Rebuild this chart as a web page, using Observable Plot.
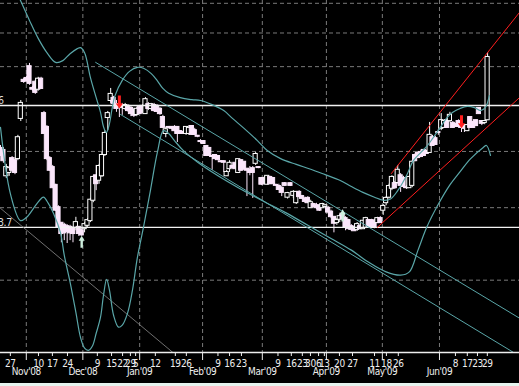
<!DOCTYPE html>
<html><head><meta charset="utf-8">
<script src="https://cdn.jsdelivr.net/npm/d3@7"></script>
<script src="https://cdn.jsdelivr.net/npm/@observablehq/plot@0.6"></script>
<style>
html,body{margin:0;padding:0;background:#e6f5ef;overflow:hidden}
#chart svg{display:block}
#chart svg text{letter-spacing:-0.4px}
</style></head><body><div id="chart"></div>
<script>
// Daily OHLC prices (one entry per trading day, left to right)
const openP = [5.06,5.02,4.54,4.60,4.86,4.82,4.86,5.70,6.63,6.68,
7.00,6.42,6.58,6.40,6.66,5.81,5.50,4.86,4.69,4.37,
4.00,3.76,3.73,3.71,3.70,3.68,3.70,3.70,3.65,3.68,
3.73,3.80,4.12,4.54,4.46,4.54,4.94,5.72,6.12,6.17,
6.02,6.00,6.00,5.93,5.98,5.93,5.88,5.79,5.95,5.98,
5.81,6.02,5.93,6.00,5.98,5.91,5.72,5.37,5.50,5.50,
5.50,5.50,5.41,5.39,5.37,5.37,5.52,5.43,5.31,5.20,
5.20,5.10,5.06,4.90,4.92,4.90,4.80,4.80,4.54,4.67,
4.71,4.77,4.60,4.82,4.79,4.66,4.64,4.67,4.77,4.69,
4.49,4.49,4.39,4.51,4.49,4.37,4.35,4.32,4.40,4.17,
4.40,4.20,4.08,4.25,4.18,4.14,4.15,4.00,4.05,4.03,
4.03,4.00,4.02,3.99,3.93,3.85,3.77,3.82,3.90,3.83,
3.80,3.71,3.70,3.67,3.71,3.68,3.70,3.80,3.80,3.79,
3.77,3.83,3.96,4.08,4.17,4.32,4.40,4.42,4.54,4.49,
4.33,4.33,4.37,4.92,4.96,4.98,5.02,5.00,4.98,5.28,
5.26,5.39,5.48,5.50,5.65,5.65,5.59,5.56,5.63,5.50,
5.54,5.43,5.72,5.61,5.65,5.93,5.63,5.61,5.67];
const highP = [5.12,5.08,4.75,4.71,4.90,4.88,5.33,6.12,6.68,6.73,
7.09,6.47,6.63,6.71,6.71,5.86,5.54,4.90,4.73,4.39,
4.03,3.77,3.76,3.74,3.73,3.71,3.85,3.71,3.68,3.77,
3.83,4.15,4.54,4.73,4.75,4.98,5.43,5.86,6.42,6.22,
6.12,6.05,6.05,6.05,6.02,5.98,5.93,5.95,6.00,6.02,
6.19,6.07,6.05,6.05,6.02,5.95,5.77,5.50,5.52,5.52,
5.54,5.52,5.43,5.41,5.52,5.54,5.54,5.48,5.33,5.24,
5.22,5.12,5.08,4.92,4.94,4.92,4.82,4.82,4.64,4.82,
4.73,4.79,4.84,4.84,4.80,4.67,4.71,4.71,4.98,4.71,
4.51,4.53,4.54,4.53,4.51,4.39,4.39,4.35,4.42,4.25,
4.42,4.28,4.25,4.28,4.20,4.17,4.18,4.12,4.07,4.07,
4.05,4.07,4.05,4.02,3.96,3.86,3.83,3.90,3.96,3.86,
3.82,3.74,3.71,3.77,3.74,3.80,3.85,3.82,3.82,3.82,
3.85,3.86,4.05,4.18,4.39,4.54,4.44,4.73,4.58,4.53,
4.37,4.53,4.82,4.96,5.00,5.02,5.04,5.02,5.61,5.33,
5.31,5.45,5.81,5.67,5.70,5.84,5.63,5.59,5.67,5.52,
5.56,5.56,5.74,5.63,5.67,5.95,5.65,5.65,7.40];
const lowP = [4.90,4.77,4.49,4.53,4.60,4.56,4.82,5.63,6.55,6.58,
6.50,6.35,6.27,6.35,6.40,5.35,4.82,4.62,4.32,3.94,
3.68,3.48,3.51,3.47,3.51,3.48,3.65,3.57,3.57,3.62,
3.70,3.77,4.08,4.28,4.39,4.51,4.90,5.43,6.05,5.98,
5.84,5.72,5.77,5.88,5.84,5.74,5.72,5.74,5.79,5.81,
5.79,5.88,5.88,5.84,5.84,5.77,5.48,5.28,5.48,5.45,
5.41,5.18,5.35,5.35,5.33,5.33,5.33,5.33,5.28,5.16,
5.14,4.90,4.90,4.64,4.84,4.82,4.79,4.60,4.53,4.60,
4.67,4.66,4.58,4.62,4.64,4.18,4.54,4.15,4.73,4.67,
4.37,4.39,4.37,4.39,4.39,4.35,4.28,4.18,4.35,4.14,
4.35,4.15,4.05,4.17,4.14,4.07,4.07,3.99,4.00,3.97,
3.94,3.99,4.00,3.90,3.83,3.62,3.73,3.77,3.80,3.65,
3.67,3.64,3.64,3.64,3.67,3.67,3.68,3.70,3.70,3.68,
3.76,3.77,3.88,4.03,4.14,4.28,4.30,4.39,4.25,4.32,
4.30,4.32,4.33,4.80,4.86,4.88,4.90,4.94,4.96,5.10,
5.12,5.33,5.43,5.48,5.48,5.61,5.48,5.50,5.48,5.39,
5.39,5.41,5.48,5.48,5.52,5.79,5.54,5.56,5.65];
const closeP = [4.98,4.82,4.69,4.67,4.64,4.60,5.28,6.05,6.60,6.63,
6.55,6.40,6.32,6.66,6.42,5.37,4.86,4.64,4.33,3.96,
3.70,3.61,3.62,3.64,3.62,3.61,3.77,3.61,3.59,3.74,
3.80,4.12,4.51,4.40,4.71,4.92,5.37,5.81,6.27,6.05,
5.93,5.98,5.95,6.00,5.88,5.81,5.77,5.91,5.81,5.84,
6.14,5.93,6.02,5.88,5.86,5.81,5.50,5.45,5.50,5.48,
5.43,5.37,5.37,5.37,5.50,5.48,5.35,5.35,5.31,5.20,
5.16,4.92,4.92,4.90,4.86,4.84,4.80,4.79,4.60,4.77,
4.69,4.67,4.84,4.64,4.66,4.64,4.60,4.60,4.94,4.69,
4.39,4.40,4.53,4.40,4.40,4.37,4.30,4.25,4.37,4.23,
4.37,4.25,4.25,4.18,4.15,4.10,4.08,4.08,4.02,4.00,
3.96,4.05,4.03,3.93,3.86,3.76,3.80,3.86,3.83,3.70,
3.68,3.67,3.65,3.74,3.68,3.79,3.83,3.71,3.71,3.70,
3.83,3.77,4.02,4.15,4.35,4.51,4.33,4.64,4.37,4.35,
4.33,4.51,4.79,4.82,4.88,4.90,4.92,4.96,5.33,5.12,
5.14,5.39,5.65,5.63,5.50,5.77,5.50,5.52,5.52,5.50,
5.48,5.54,5.50,5.50,5.54,5.81,5.59,5.63,7.26];

// Envelope curves (day index, price)
const upperIdx = [4.5,6.9,10,13,16,19,21.5,24,26.5,27.6,29,31,33,34.5,35.5,36.5,37.5,38.5,39.5,42,44.5,47.2,49.5,52,54,56,58,62,66,69,73,77,80,84,88.6,92,96.6,102,107,112,117,121,125,129,132,134.5,137,140,142.4,145,147,149,151.7,154,156,158.5,161,163.5,165.5,167.2,168.6];
const upperVal = [9.66,9.10,8.41,7.83,7.40,7.12,7.17,7.37,7.52,7.55,7.40,6.71,6.19,5.84,5.52,5.39,5.56,5.93,6.24,6.63,6.87,6.98,6.95,6.81,6.63,6.42,6.30,6.19,6.14,6.12,6.02,5.88,5.70,5.48,5.22,5.02,4.86,4.75,4.66,4.56,4.46,4.35,4.25,4.17,4.12,4.14,4.28,4.54,4.82,4.98,5.10,5.26,5.50,5.72,5.84,5.93,5.98,5.95,5.88,5.95,6.24];
const lowerIdx = [0,3.4,6.9,9,11.4,13.5,14.8,16.5,18.3,20.7,22,24.1,26,27.6,29,30.3,31.7,33,34.5,35.5,36.6,37.6,39,40.7,42,43.8,45.5,47.2,49.3,51.7,54.1,56.2,58,60,63,68,75,82,90,98,106,114,121,127,133,138,141,144,147,150.7,155,158.6,162,166.5,167.6,169];
const lowerVal = [5.50,4.23,3.80,3.85,3.99,4.12,4.17,4.07,3.91,3.62,3.31,2.96,2.64,2.39,2.29,2.27,2.31,2.43,2.59,2.82,3.01,2.88,2.61,2.49,2.51,2.63,2.88,3.28,3.70,4.28,4.98,5.43,5.37,5.22,5.02,4.79,4.54,4.33,4.12,3.93,3.73,3.54,3.38,3.22,3.10,3.06,3.10,3.38,3.70,4.03,4.38,4.62,4.85,5.08,5.12,4.92];

// Trend lines (start/end index, start/end price)
const downChanTopIdx = [32.8, 179], downChanTopVal = [7.12, 2.58];
const downChanBotIdx = [41.4, 179], downChanBotVal = [5.79, 2.22];
const oldTrendIdx = [0, 60], oldTrendVal = [3.99, 2.24];
const upChanTopIdx = [134.8, 179], upChanTopVal = [4.58, 8.68];
const upChanBotIdx = [130, 179], upChanBotVal = [3.70, 6.19];

// Signals
const sellIdx = [41, 159], sellPrice = [5.93, 5.48];
const buyIdx = [28, 118], buyPrice = [3.58, 3.97];

// Levels and grid
const levelPrices = [6, 3.7], levelLabels = ["6", "3.7"];
const gridPrices = [3, 4, 5, 7, 8, 9];

// Time axis
const dayTickPos = [3.4,13.1,17.9,23.1,33.4,38.3,42.1,44.8,46.6,53.4,60.3,64.1,75.0,79.0,83.1,95.7,100.3,104.1,106.9,109.7,111.7,116.9,121.4,129.0,133.1,137.2,156.9,161.0,164.5,167.9];
const dayTickLabel = ["27","10","17","24","9","15","22","29","5","12","19","26","9","16","23","9","16","23","30","6","13","20","27","11","18","26","8","17","23","29"];
const monthTickPos = [8.9, 28.4, 48.0, 69.7, 90.3, 112.4, 131.7, 151.4];
const monthTickLabel = ["Nov'08","Dec'08","Jan'09","Feb'09","Mar'09","Apr'09","May'09","Jun'09"];

const PINK = "#fbe6fb", CYAN = "#5aa6a8", RED = "#ff1e1e", GRID = "#7a7a7a", FG = "#eeeeee";
const FONT = "'Liberation Sans Narrow', 'Arial Narrow', 'DejaVu Sans Condensed', 'Liberation Sans', sans-serif";

const candles = openP.map((o, i) => ({i, open: o, high: highP[i], low: lowP[i], close: closeP[i], up: closeP[i] > o}));
const pts = (idx, val) => idx.map((x, k) => ({x, y: val[k]}));
const upperBand = pts(upperIdx, upperVal), lowerBand = pts(lowerIdx, lowerVal);
const sells = pts(sellIdx, sellPrice), buys = pts(buyIdx, buyPrice);
const levels = levelPrices.map((p, k) => ({p, t: levelLabels[k]}));
const dayTicks = dayTickPos.map((p, k) => ({p, t: dayTickLabel[k]}));
const monthTicks = monthTickPos.map((p, k) => ({p, t: monthTickLabel[k]}));

const downArrow = {draw(c) {c.moveTo(-1.5,-13); c.lineTo(1.5,-13); c.lineTo(1.5,-5); c.lineTo(3.6,-5); c.lineTo(0,0); c.lineTo(-3.6,-5); c.lineTo(-1.5,-5); c.closePath();}};
const upArrow = {draw(c) {c.moveTo(-1.2,12); c.lineTo(1.2,12); c.lineTo(1.2,5); c.lineTo(3,5); c.lineTo(0,0); c.lineTo(-3,5); c.lineTo(-1.2,5); c.closePath();}};

const yMin = 2.2516, yMax = 9.101;
const lineOpts = (stroke, w) => ({x: "x", y: "y", stroke, strokeWidth: w, clip: true});

const chart = Plot.plot({
  width: 519, height: 383,
  marginLeft: 0, marginRight: 0, marginTop: 0, marginBottom: 31,
  x: {domain: [0, 179], axis: null},
  y: {type: "log", domain: [yMin, yMax], axis: null},
  color: {type: "identity"},
  style: {background: "black", color: FG, fontFamily: FONT, fontSize: "10px"},
  marks: [
    Plot.ruleY(gridPrices, {stroke: GRID, strokeDasharray: "4,3"}),
    Plot.ruleX(monthTickPos, {stroke: GRID, strokeDasharray: "4,3"}),
    Plot.ruleX(candles, {x: "i", y1: "low", y2: "high", stroke: d => d.up ? "#ffffff" : PINK, strokeWidth: 1, clip: true}),
    Plot.rect(candles, {x1: d => d.i - 0.72, x2: d => d.i + 0.72, y1: "open", y2: "close",
      fill: d => d.up ? "#000000" : PINK, stroke: d => d.up ? "#ffffff" : PINK, strokeWidth: 1,
      insetTop: -0.5, insetBottom: -0.5, clip: true}),
    Plot.ruleY(levelPrices, {stroke: "#f2f2f2", strokeWidth: 1.3}),
    Plot.line(oldTrendIdx.map((x, k) => ({x, y: oldTrendVal[k]})), lineOpts("#8c8c8c", 0.8)),
    Plot.line(pts(downChanTopIdx, downChanTopVal), lineOpts(CYAN, 1)),
    Plot.line(pts(downChanBotIdx, downChanBotVal), lineOpts(CYAN, 1)),
    Plot.line(upperBand, {...lineOpts(CYAN, 1.2), curve: "catmull-rom"}),
    Plot.line(lowerBand, {...lineOpts(CYAN, 1.2), curve: "catmull-rom"}),
    Plot.line(pts(upChanTopIdx, upChanTopVal), lineOpts(RED, 1)),
    Plot.line(pts(upChanBotIdx, upChanBotVal), lineOpts(RED, 1)),
    Plot.dot(sells, {x: "x", y: "y", symbol: downArrow, fill: RED, stroke: "none"}),
    Plot.dot(buys, {x: "x", y: "y", symbol: upArrow, fill: "#cdeedd", stroke: "none"}),
    Plot.ruleY([yMin], {stroke: FG, strokeWidth: 1.5}),
    Plot.ruleX(dayTickPos, {stroke: FG, insetTop: 352, insetBottom: -4}),
    Plot.ruleX(monthTickPos, {stroke: FG, insetTop: 352, insetBottom: -8}),
    Plot.text(dayTicks, {x: "p", text: "t", frameAnchor: "bottom", dy: 14.5, fill: FG, fontSize: 10}),
    Plot.text(monthTicks, {x: "p", text: "t", frameAnchor: "bottom", dy: 22.5, fill: FG, fontSize: 10}),
    Plot.text(levels, {y: "p", text: "t", frameAnchor: "left", textAnchor: "start", lineAnchor: "bottom", dx: -2.5, dy: -1, fill: "#dddddd", fontSize: 10.5})
  ]
});
document.getElementById("chart").appendChild(chart);
</script></body></html>
